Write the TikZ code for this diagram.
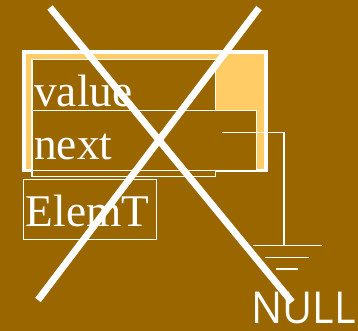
\documentclass[tikz,border=0pt]{standalone}
\usepackage{fontspec}
\setmainfont{Liberation Serif}
\newfontfamily\nulllabelfont{Open Sans}
\usepackage{tikz}

\definecolor{listbrown}{RGB}{153,102,0}
\definecolor{listorange}{RGB}{255,204,102}

\tikzset{
  cellbox/.style={draw=white, line width=1pt, fill=listbrown},
  cellword/.style={anchor=base west, inner sep=0pt, text=white, font=\fontsize{34}{34}\selectfont},
  wire/.style={draw=white, line width=1pt},
  crossbar/.style={draw=white, line width=5.2pt}
}

\begin{document}
\begin{tikzpicture}[x=0.75pt, y=-0.75pt]
		% Background and frame
		\useasboundingbox (0,0) rectangle (358,331);
		\fill[listbrown] (0,0) rectangle (358,331);

		% struct outline
		\draw[white, line width=2.8pt, fill=listorange] (24.2,52) rectangle (266,170.5);
		\draw[cellbox] (32,59.5) rectangle (215.5,176.5);
		\draw[cellbox] (32,110.7) rectangle (256.7,170.5);
		\draw[cellbox] (23.5,179.5) rectangle (156.5,239.5);

		% Labels
		\node[cellword] (value) at (34,107) {value};
		\node[cellword] (next) at (34,159.3) {next};
		\node[cellword] (elemt) at (25.5,227) {ElemT};

		% next pointer to ground
		\coordinate (nextptr) at (221.7,132.7);
		\coordinate (gnd) at (284,245.7);
		\draw[wire] (nextptr) -| (gnd);
		\draw[wire] (252.5,245.7) -- (321.5,245.7);
		\draw[wire] (265,257.5) -- (309,257.5);
		\draw[wire] (276,269) -- (298,269);
		\node[anchor=base west, inner sep=0pt, text=white, xscale=0.94, font=\nulllabelfont\fontsize{33}{33}\selectfont] (null) at (251,324) {NULL};

		% the big cross
		\draw[crossbar] (50,7.5) -- (292,302);
		\draw[crossbar] (259,8) -- (38,300);
	\end{tikzpicture}
\end{document}
